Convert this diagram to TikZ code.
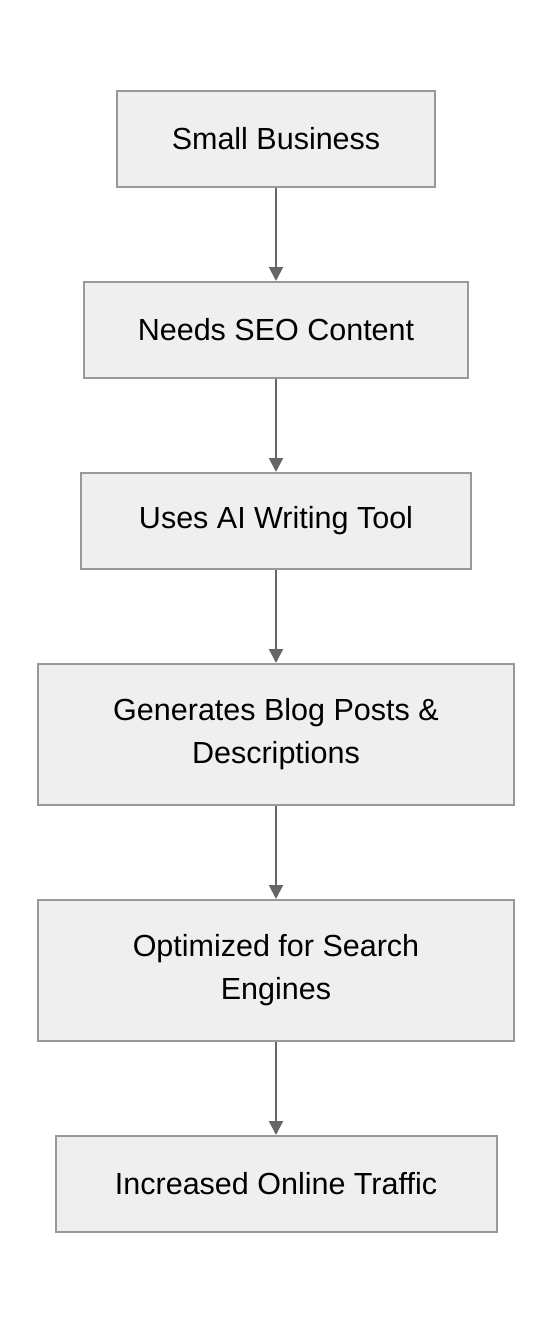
\documentclass[tikz,border=0pt]{standalone}
\usepackage{fontspec}
\setmainfont{Liberation Sans}
\usetikzlibrary{positioning,arrows.meta}
\definecolor{boxfill}{HTML}{EFEFEF}
\definecolor{boxline}{HTML}{999999}
\definecolor{flowline}{HTML}{666666}
\begin{document}
\begin{tikzpicture}[
    node distance=93pt,
    stepbox/.style={rectangle, draw=boxline, fill=boxfill, line width=2pt,
        minimum height=96pt, inner sep=0pt, align=center,
        font=\fontsize{30.5}{43}\selectfont},
    flow/.style={draw=flowline, line width=2pt, -{Triangle[width=14pt,length=14pt]}}
]
\useasboundingbox (0,0) rectangle (552pt,-1324pt);
\node[stepbox, minimum width=318pt] (small) at (276pt,-139pt) {Small Business};
\node[stepbox, minimum width=384pt, below=of small] (seo) {Needs SEO Content};
\node[stepbox, minimum width=390pt, below=of seo] (tool) {Uses AI Writing Tool};
\node[stepbox, minimum width=476pt, minimum height=141pt, below=of tool] (blog) {Generates Blog Posts \&\\Descriptions};
\node[stepbox, minimum width=476pt, minimum height=141pt, below=of blog] (search) {Optimized for Search\\Engines};
\node[stepbox, minimum width=441pt, below=of search] (traffic) {Increased Online Traffic};
\draw[flow] (small) -- (seo);
\draw[flow] (seo) -- (tool);
\draw[flow] (tool) -- (blog);
\draw[flow] (blog) -- (search);
\draw[flow] (search) -- (traffic);
\end{tikzpicture}
\end{document}
